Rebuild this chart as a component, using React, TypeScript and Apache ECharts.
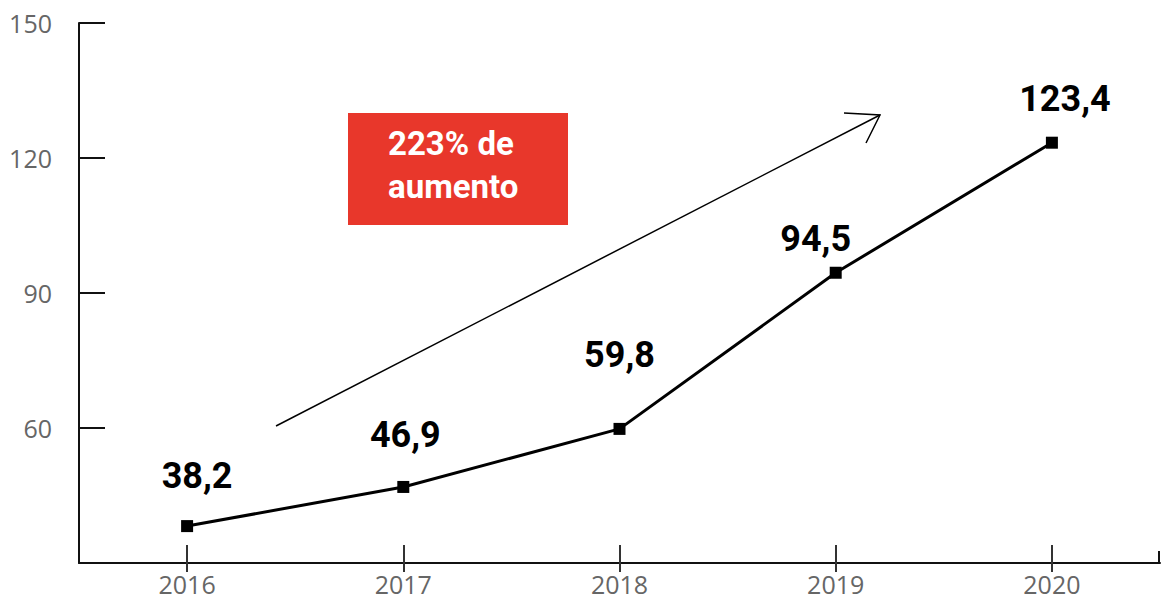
import React, { useEffect, useRef } from "react";
import * as echarts from "echarts";

const years = ["2016", "2017", "2018", "2019", "2020"];
const values = [38.2, 46.9, 59.8, 94.5, 123.4];
const labelTexts = ["38,2", "46,9", "59,8", "94,5", "123,4"];
const labelOffsets: [number, number][] = [[10, -4], [2, -6], [0, -28], [-20, 12], [13, 2]];
const annotation = ["223% de", "aumento"];

export default function App() {
  const ref = useRef<HTMLDivElement>(null);
  useEffect(() => {
    if (!ref.current) return;
    const chart = echarts.init(ref.current, undefined, { renderer: "svg" });
    const axisColor = "#111";
    const labelFont = { color: "#666", fontSize: 25, fontFamily: "Open Sans" };
    chart.setOption({
      animation: false,
      grid: { left: 79, right: 2, top: 23, bottom: 37 },
      xAxis: [
        {
          type: "category",
          data: years,
          boundaryGap: true,
          axisLine: { show: true, lineStyle: { color: axisColor, width: 2 } },
          axisTick: { show: true, interval: 0, alignWithLabel: true, inside: true, length: 18, lineStyle: { color: "#333", width: 2 } },
          axisLabel: { ...labelFont, margin: 8, lineHeight: 25 },
        },
        {
          type: "category",
          data: years,
          position: "bottom",
          boundaryGap: true,
          axisLine: { show: false },
          axisTick: { show: true, interval: 0, alignWithLabel: true, inside: false, length: 9, lineStyle: { color: "#333", width: 2 } },
          axisLabel: { show: false },
        },
      ],
      yAxis: {
        type: "value",
        min: 30,
        max: 150,
        interval: 30,
        axisLine: { show: true, lineStyle: { color: axisColor, width: 2 } },
        axisTick: { show: true, inside: true, length: 26, lineStyle: { color: axisColor, width: 2 } },
        axisLabel: { ...labelFont, margin: 27, showMinLabel: false },
        splitLine: { show: false },
      },
      series: [
        {
          type: "line",
          xAxisIndex: 0,
          data: values.map((v, i) => ({
            value: v,
            label: { formatter: labelTexts[i], offset: labelOffsets[i] },
          })),
          symbol: "rect",
          symbolSize: 12,
          itemStyle: { color: "#000" },
          lineStyle: { color: "#000", width: 3 },
          label: {
            show: true,
            position: "top",
            distance: 22,
            color: "#000",
            fontSize: 36,
            fontWeight: "bold",
            fontFamily: "Roboto",
          },
        },
      ],
      graphic: [
        { type: "line", shape: { x1: 1159, y1: 551, x2: 1159, y2: 564 }, style: { stroke: axisColor, lineWidth: 2 } },
        { type: "line", shape: { x1: 276, y1: 426, x2: 880, y2: 115 }, style: { stroke: "#000", lineWidth: 1.5 } },
        { type: "polyline", shape: { points: [[844, 113], [880, 115], [866, 143]] }, style: { stroke: "#000", lineWidth: 1.5, fill: null } },
        { type: "rect", shape: { x: 348, y: 113, width: 220, height: 112 }, style: { fill: "#e8372b" } },
        {
          type: "text",
          x: 388,
          y: 143,
          style: { text: annotation[0], fill: "#fff", fontSize: 33, fontWeight: "bold", fontFamily: "Roboto", verticalAlign: "middle" },
        },
        {
          type: "text",
          x: 388,
          y: 186,
          style: { text: annotation[1], fill: "#fff", fontSize: 33, fontWeight: "bold", fontFamily: "Roboto", verticalAlign: "middle" },
        },
      ],
    });
    return () => chart.dispose();
  }, []);
  return <div ref={ref} style={{ width: 1162, height: 600, position: "absolute", left: 0, top: 0 }} />;
}
